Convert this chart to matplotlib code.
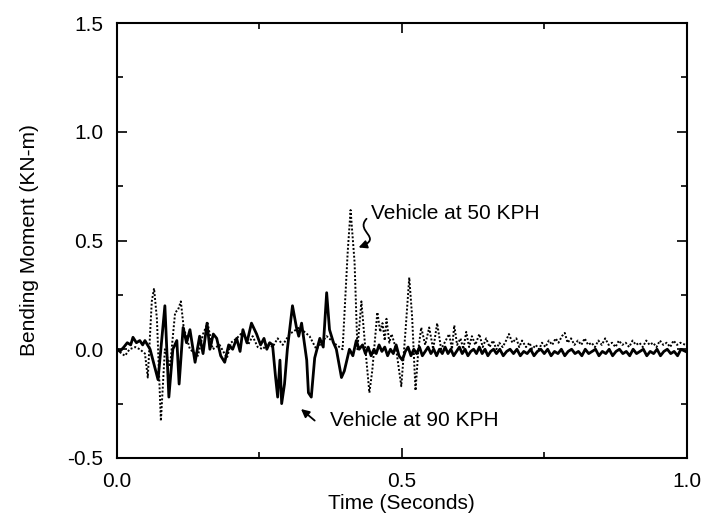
import matplotlib.pyplot as plt
import numpy as np
from matplotlib.patches import FancyArrowPatch
from matplotlib.path import Path

plt.rcParams['font.family'] = ['Liberation Sans', 'DejaVu Sans']

# VEHICLE AT 50 KPH (dotted trace)
t_50 = [0.000, 0.008, 0.014, 0.022, 0.032, 0.040, 0.049, 0.054, 0.061, 0.065,
        0.070, 0.077, 0.084, 0.093, 0.102, 0.107, 0.112, 0.117, 0.128, 0.142,
        0.151, 0.159, 0.168, 0.180, 0.193, 0.200, 0.210, 0.221, 0.230, 0.238,
        0.247, 0.256, 0.265, 0.273, 0.282, 0.291, 0.303, 0.320, 0.338, 0.350,
        0.368, 0.385, 0.396, 0.405, 0.410, 0.417, 0.422, 0.429, 0.436, 0.443,
        0.448, 0.457, 0.462, 0.466, 0.470, 0.473, 0.478, 0.482, 0.490, 0.499,
        0.506, 0.513, 0.518, 0.524, 0.529, 0.534, 0.541, 0.548, 0.555, 0.562,
        0.569, 0.575, 0.583, 0.588, 0.592, 0.597, 0.603, 0.608, 0.613, 0.618,
        0.623, 0.629, 0.636, 0.642, 0.648, 0.654, 0.660, 0.666, 0.671, 0.677,
        0.683, 0.688, 0.694, 0.701, 0.706, 0.711, 0.718, 0.724, 0.729, 0.735,
        0.741, 0.746, 0.752, 0.758, 0.764, 0.770, 0.775, 0.781, 0.786, 0.791,
        0.797, 0.803, 0.809, 0.815, 0.821, 0.827, 0.833, 0.839, 0.845, 0.851,
        0.857, 0.863, 0.869, 0.875, 0.881, 0.887, 0.893, 0.899, 0.905, 0.911,
        0.917, 0.923, 0.929, 0.935, 0.941, 0.947, 0.953, 0.959, 0.965, 0.971,
        0.977, 0.983, 0.989, 0.998]
m_50 = [0.00, -0.02, -0.03, 0.00, 0.01, 0.00, -0.02, -0.13, 0.22, 0.28,
        0.14, -0.33, 0.00, -0.08, 0.17, 0.18, 0.22, 0.10, 0.00, -0.03,
        0.07, 0.12, 0.00, 0.02, -0.04, 0.03, 0.05, 0.08, 0.02, 0.06,
        0.01, 0.00, 0.03, 0.01, 0.05, 0.02, 0.07, 0.10, 0.06, 0.00,
        0.06, 0.02, 0.00, 0.45, 0.64, 0.40, 0.00, 0.22, 0.00, -0.20,
        -0.10, 0.17, 0.08, 0.12, 0.04, 0.14, 0.03, 0.07, 0.00, -0.17,
        0.07, 0.33, 0.15, -0.19, 0.00, 0.10, 0.02, 0.10, 0.00, 0.12,
        0.00, 0.03, 0.07, 0.00, 0.11, 0.02, 0.05, 0.00, 0.08, 0.01,
        0.06, 0.02, 0.07, 0.01, 0.05, 0.01, 0.04, 0.00, 0.03, 0.01,
        0.04, 0.07, 0.03, 0.05, 0.01, 0.04, 0.01, 0.03, 0.00, 0.02,
        0.00, 0.03, 0.01, 0.04, 0.02, 0.05, 0.03, 0.06, 0.075, 0.03,
        0.05, 0.02, 0.04, 0.02, 0.05, 0.02, 0.03, 0.01, 0.04, 0.02,
        0.05, 0.02, 0.03, 0.01, 0.04, 0.02, 0.03, 0.01, 0.04, 0.02,
        0.03, 0.01, 0.04, 0.02, 0.03, 0.01, 0.04, 0.02, 0.03, 0.01,
        0.04, 0.02, 0.03, 0.02]

# VEHICLE AT 90 KPH (solid trace)
t_90 = [0.000, 0.005, 0.012, 0.018, 0.024, 0.028, 0.034, 0.040, 0.045, 0.049,
        0.058, 0.072, 0.084, 0.091, 0.098, 0.105, 0.109, 0.116, 0.122, 0.128,
        0.137, 0.145, 0.151, 0.158, 0.163, 0.169, 0.175, 0.182, 0.189, 0.196,
        0.203, 0.210, 0.216, 0.221, 0.228, 0.236, 0.245, 0.252, 0.258, 0.263,
        0.268, 0.273, 0.278, 0.282, 0.286, 0.289, 0.294, 0.299, 0.308, 0.315,
        0.319, 0.324, 0.333, 0.336, 0.341, 0.347, 0.356, 0.362, 0.368, 0.373,
        0.380, 0.385, 0.394, 0.399, 0.408, 0.414, 0.420, 0.425, 0.431, 0.436,
        0.441, 0.446, 0.451, 0.455, 0.460, 0.465, 0.470, 0.475, 0.480, 0.485,
        0.490, 0.495, 0.501, 0.506, 0.511, 0.516, 0.521, 0.526, 0.531, 0.536,
        0.541, 0.546, 0.551, 0.556, 0.561, 0.566, 0.571, 0.576, 0.581, 0.586,
        0.591, 0.596, 0.601, 0.606, 0.611, 0.616, 0.621, 0.626, 0.631, 0.636,
        0.641, 0.646, 0.651, 0.656, 0.661, 0.666, 0.672, 0.678, 0.684, 0.690,
        0.696, 0.702, 0.708, 0.714, 0.720, 0.726, 0.732, 0.738, 0.744, 0.750,
        0.756, 0.762, 0.768, 0.774, 0.780, 0.786, 0.792, 0.798, 0.804, 0.810,
        0.816, 0.822, 0.828, 0.834, 0.840, 0.846, 0.852, 0.858, 0.864, 0.870,
        0.876, 0.882, 0.888, 0.894, 0.900, 0.906, 0.912, 0.918, 0.924, 0.930,
        0.936, 0.942, 0.948, 0.954, 0.960, 0.966, 0.972, 0.978, 0.984, 0.990,
        0.998]
m_90 = [0.00, -0.01, 0.01, 0.03, 0.02, 0.055, 0.03, 0.04, 0.02, 0.04,
        0.00, -0.14, 0.20, -0.22, 0.00, 0.04, -0.16, 0.10, 0.03, 0.09,
        -0.06, 0.06, -0.02, 0.12, 0.00, 0.07, 0.05, -0.03, -0.06, 0.02,
        0.00, 0.05, -0.01, 0.09, 0.03, 0.12, 0.07, 0.02, 0.05, 0.00,
        0.03, 0.02, -0.12, -0.22, -0.05, -0.25, -0.16, 0.00, 0.20, 0.10,
        0.06, 0.12, -0.05, -0.20, -0.22, -0.04, 0.05, 0.01, 0.26, 0.09,
        0.03, 0.00, -0.13, -0.10, 0.00, -0.03, 0.04, 0.00, 0.02, -0.02,
        0.01, -0.03, 0.00, -0.02, 0.02, -0.01, 0.01, -0.03, 0.00, -0.02,
        0.02, -0.03, -0.05, -0.01, 0.01, -0.03, 0.00, -0.02, 0.01, -0.03,
        -0.01, 0.01, -0.02, 0.00, -0.03, 0.00, -0.02, 0.01, -0.02, 0.00,
        -0.03, -0.01, 0.01, -0.02, 0.00, -0.03, -0.01, 0.00, -0.02, 0.01,
        -0.02, 0.00, -0.03, -0.01, 0.00, -0.02, 0.00, -0.03, -0.01, 0.00,
        -0.02, 0.00, -0.03, -0.01, -0.02, 0.00, -0.03, -0.01, 0.00, -0.02,
        0.00, -0.03, -0.01, -0.02, 0.00, -0.03, -0.01, 0.00, -0.02, -0.01,
        -0.03, 0.00, -0.02, -0.01, 0.00, -0.03, -0.01, -0.02, 0.00, -0.03,
        -0.01, 0.00, -0.02, -0.01, -0.03, 0.00, -0.02, -0.01, 0.00, -0.03,
        -0.01, -0.02, 0.00, -0.03, -0.01, 0.00, -0.02, -0.01, -0.03, 0.00,
        -0.01]

fig = plt.figure(figsize=(7.05, 5.24), dpi=100)
ax = fig.add_axes([0.166, 0.126, 0.808, 0.830])

ax.plot(t_50, m_50, color='black', lw=1.4, linestyle=(0, (1, 1)))
ax.plot(t_90, m_90, color='black', lw=2.0)

ax.set_xlim(0, 1.0)
ax.set_ylim(-0.5, 1.5)
ax.set_xticks([0.0, 0.5, 1.0])
ax.set_xticks([0.25, 0.75], minor=True)
ax.set_yticks([-0.5, 0.0, 0.5, 1.0, 1.5])
ax.set_yticks([-0.25, 0.25, 0.75, 1.25], minor=True)
ax.xaxis.set_major_formatter(plt.FormatStrFormatter('%.1f'))
ax.yaxis.set_major_formatter(plt.FormatStrFormatter('%.1f'))
ax.tick_params(which='both', direction='in', top=True, right=True,
               labelsize=15, width=1.2)
ax.tick_params(which='major', length=7, pad=10)
ax.tick_params(which='minor', length=4)
for s in ax.spines.values():
    s.set_linewidth(1.5)

ax.set_xlabel('Time (Seconds)', fontsize=15, labelpad=2)
ax.set_ylabel('Bending Moment (KN-m)', fontsize=15, labelpad=20)

# ANNOTATIONS
ax.text(0.445, 0.625, 'Vehicle at 50 KPH', fontsize=15, va='center', ha='left')
verts = [(0.438, 0.600), (0.417, 0.540), (0.469, 0.513), (0.424, 0.468)]
codes = [Path.MOVETO, Path.CURVE4, Path.CURVE4, Path.CURVE4]
arr = FancyArrowPatch(path=Path(verts, codes), arrowstyle='-|>',
                      mutation_scale=12, color='black', lw=1.3)
ax.add_patch(arr)

ax.annotate('', xy=(0.323, -0.275), xytext=(0.347, -0.328),
            arrowprops=dict(arrowstyle='-|>', color='black', lw=1.3,
                            mutation_scale=12, shrinkA=0, shrinkB=0))
ax.text(0.373, -0.326, 'Vehicle at 90 KPH', fontsize=15, va='center', ha='left')

fig.savefig('out.png', dpi=100)
